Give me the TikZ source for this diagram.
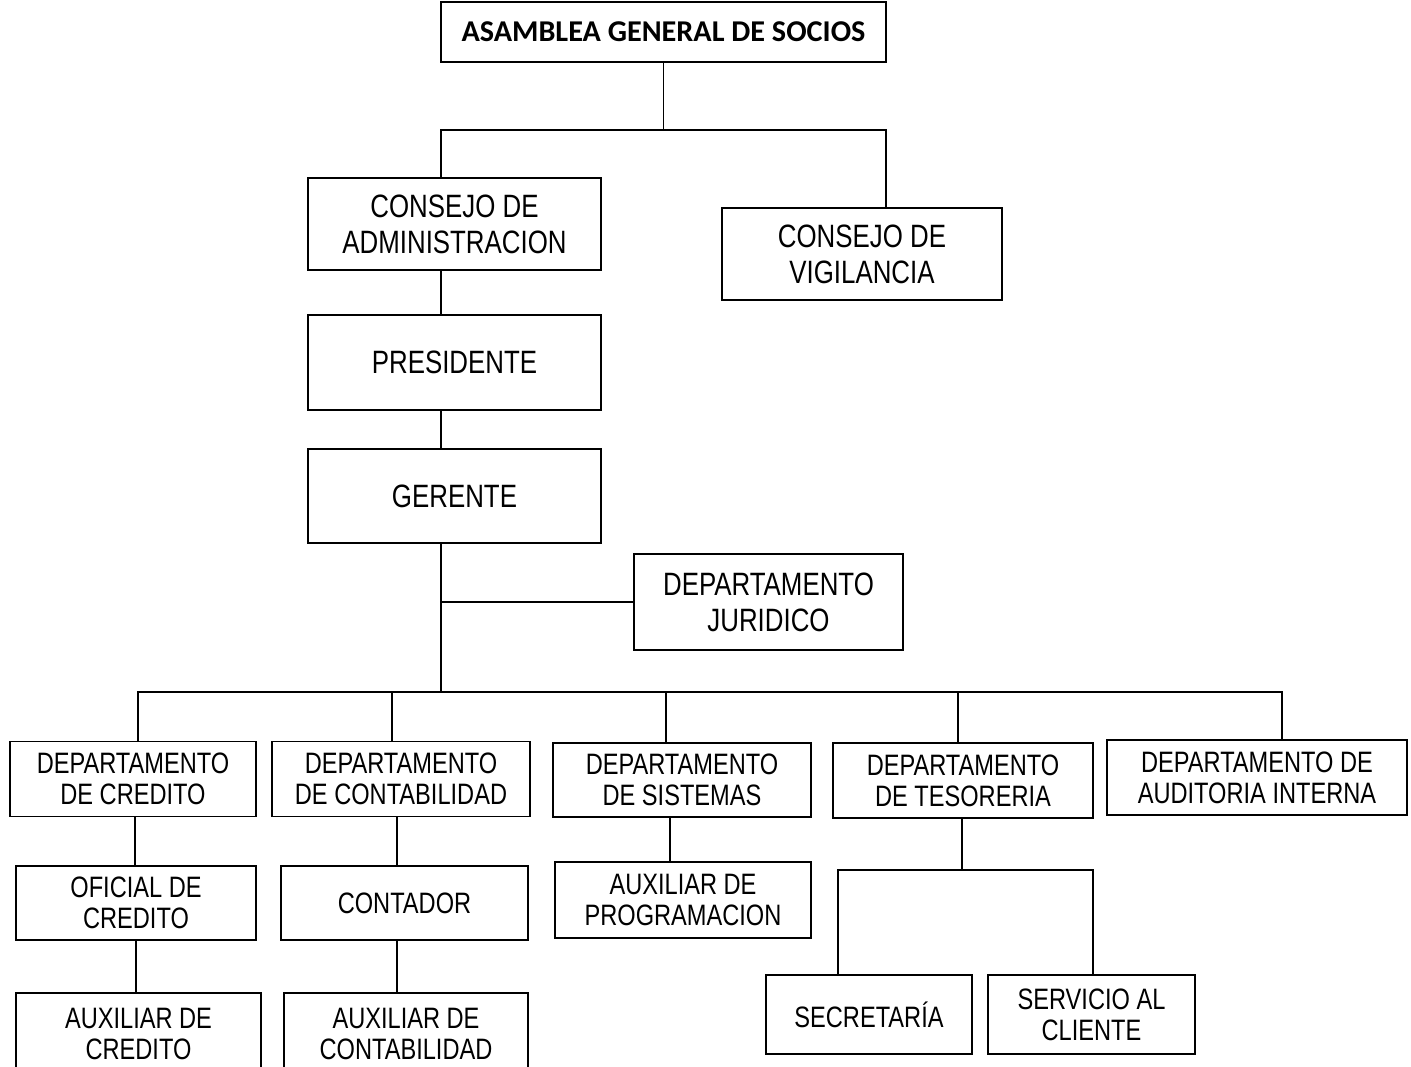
\documentclass[tikz,border=0pt]{standalone}
\usepackage{fontspec}
\setmainfont{Liberation Sans}[FakeStretch=0.8]
\newfontfamily\titlefont{Carlito}
\usepackage{tikz}
\usetikzlibrary{positioning, calc}

\newcommand{\txtgrande}{\fontsize{18.4}{20.5}\selectfont}
\newcommand{\txtchico}{\fontsize{16.8}{17.8}\selectfont}

\begin{document}
\begin{tikzpicture}[
  x=0.02cm, y=-0.02cm,
  line width=1.1pt,
  every node/.style={align=center, inner sep=0pt},
  cargo/.style={draw, line width=1.1pt, font=\txtgrande},
  depto/.style={draw, line width=1.1pt, font=\txtchico},
  tam/.style 2 args={minimum width=#1*0.2mm, minimum height=#2*0.2mm}
]
\useasboundingbox (0,0) rectangle (1411,1066);

% nivel superior
\node[cargo, tam={445}{60}, font=\titlefont\bfseries\fontsize{17.2}{20}\selectfont] (asamblea) at (663.5,32) {ASAMBLEA GENERAL DE SOCIOS};
\node[cargo, tam={293}{92}] (admin) at (454.5,224) {CONSEJO DE\\ADMINISTRACION};
\node[cargo, tam={280}{92}] (vigilancia) at (862,254) {CONSEJO DE\\VIGILANCIA};
\node[cargo, tam={293}{95}] (presidente) at (454.5,362.5) {PRESIDENTE};
\node[cargo, tam={293}{94}] (gerente) at (454.5,496) {GERENTE};
\node[cargo, tam={269}{96}] (juridico) at (768.5,602) {DEPARTAMENTO\\JURIDICO};

% departamentos
\node[depto, tam={246}{75}] (credito) at (133,779) {DEPARTAMENTO\\DE CREDITO};
\node[depto, tam={258}{75}] (contab) at (401,779) {DEPARTAMENTO\\DE CONTABILIDAD};
\node[depto, tam={258}{74}] (sistemas) at (682,780) {DEPARTAMENTO\\DE SISTEMAS};
\node[depto, tam={260}{75}] (tesoreria) at (963,780.5) {DEPARTAMENTO\\DE TESORERIA};
\node[depto, tam={300}{75}] (auditoria) at (1257,777.5) {DEPARTAMENTO DE\\AUDITORIA INTERNA};

% subordinados
\node[depto, tam={240}{74}] (oficial) at (136,903) {OFICIAL DE\\CREDITO};
\node[depto, tam={247}{74}] (contador) at (404.5,903) {CONTADOR};
\node[depto, tam={256}{76}] (auxprog) at (683,900) {AUXILIAR DE\\PROGRAMACION};
\node[depto, tam={206}{79}] (secretaria) at (869,1014.5) {SECRETARÍA};
\node[depto, tam={207}{79}] (servicio) at (1091.5,1014.5) {SERVICIO AL\\CLIENTE};
\node[depto, tam={245}{82}] (auxcred) at (138.5,1034) {AUXILIAR DE\\CREDITO};
\node[depto, tam={244}{82}] (auxcont) at (406,1034) {AUXILIAR DE\\CONTABILIDAD};

% conectores
\coordinate (izq) at (441,130);
\coordinate (der) at (886,130);
\coordinate (busL) at (138,692);
\coordinate (busR) at (1282,692);
\coordinate (tesL) at (838,870);
\coordinate (tesR) at (1093,870);

\draw (asamblea.south) -- (asamblea.south |- izq);
\draw (izq |- admin.north) -- (izq) -- (der) -- (der |- vigilancia.north);
\draw (admin.south -| izq) -- (presidente.north -| izq);
\draw (presidente.south -| izq) -- (gerente.north -| izq);
\draw (gerente.south -| izq) -- (izq |- busL);
\draw (izq |- juridico.west) -- (juridico.west);
\draw (busL |- credito.north) -- (busL) -- (busR) -- (busR |- auditoria.north);
\foreach \n/\x in {contab/392, sistemas/666, tesoreria/958}
  \draw (\x,0 |- busL) -- (\n.north -| \x,0);

\draw (credito.south -| 135,0) -- (oficial.north -| 135,0);
\draw (oficial.south -| 136,0) -- (auxcred.north -| 136,0);
\draw (contab.south -| 397,0) -- (contador.north -| 397,0);
\draw (contador.south -| 397,0) -- (auxcont.north -| 397,0);
\draw (sistemas.south -| 670,0) -- (auxprog.north -| 670,0);
\draw (tesoreria.south -| 962,0) -- (962,0 |- tesL);
\draw (tesL |- secretaria.north) -- (tesL) -- (tesR) -- (tesR |- servicio.north);
\end{tikzpicture}
\end{document}
